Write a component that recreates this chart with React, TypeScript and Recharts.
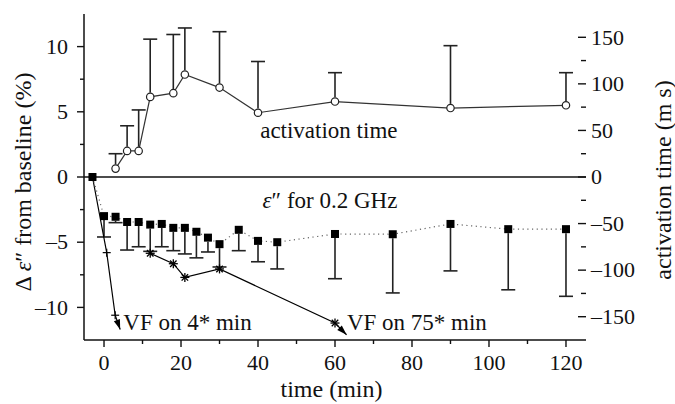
import React from 'react';
import { ComposedChart, Line, XAxis, YAxis, ReferenceLine, ReferenceDot } from 'recharts';

// ---- data ----
const actTimes = [3, 6, 9, 12, 18, 21, 30, 40, 60, 90, 120];
const actValues = [9, 28, 28, 86, 90, 110, 96, 69, 81, 74, 77]; // ms
const actErrors = [16, 27, 44, 62, 63, 50, 60, 55, 31, 67, 35]; // ms (upper)

const epsTimes = [-3, 0, 3, 6, 9, 12, 15, 18, 21, 24, 27, 30, 35, 40, 45, 60, 75, 90, 105, 120];
const epsValues = [0, -3.0, -3.05, -3.45, -3.45, -3.65, -3.6, -3.9, -3.9, -4.2, -4.65, -5.15, -4.05, -4.9, -5.0, -4.37, -4.39, -3.6, -4.0, -4.0];
const epsErrors = [0, 1.6, 0.45, 2.15, 1.9, 2.05, 1.75, 1.75, 2.0, 2.0, 1.1, 1.75, 1.6, 1.6, 2.05, 3.43, 4.5, 3.6, 4.65, 5.15];

const vf4Times = [-3, 0.7, 2.9, 4.2];
const vf4Values = [0, -5.8, -10.6, -11.7];

const vf75Times = [12, 18, 21, 30, 60, 63];
const vf75Values = [-5.85, -6.65, -7.7, -7.05, -11.2, -12.1];

const xTicks = [0, 10, 20, 30, 40, 50, 60, 70, 80, 90, 100, 110, 120];
const leftTicks = [-10, -7.5, -5, -2.5, 0, 2.5, 5, 7.5, 10];
const rightTicks = [-150, -125, -100, -75, -50, -25, 0, 25, 50, 75, 100, 125, 150];

const actData = actTimes.map((t, i) => ({ t, v: actValues[i] }));
const epsData = epsTimes.map((t, i) => ({ t, v: epsValues[i] }));
const vf4Data = vf4Times.map((t, i) => ({ t, v: vf4Values[i] }));
const vf75Data = vf75Times.map((t, i) => ({ t, v: vf75Values[i] }));

// ---- styles ----
const FONT = '"Liberation Serif", "Times New Roman", Times, serif';
const TICK_FS = 22;
const INK = '#111';

const fmt = (v: number) => (v < 0 ? `\u2013${-v}` : `${v}`);

const BottomTick = (p: any) => {
  const { x, y, payload } = p;
  const v = payload.value;
  const major = v % 20 === 0;
  return (
    <g>
      <line x1={x} y1={y} x2={x} y2={y + (major ? 7 : 4)} stroke={INK} strokeWidth={1.4} />
      {major && (
        <text x={x} y={y + 30} textAnchor="middle" fontSize={TICK_FS} fontFamily={FONT} fill={INK}>
          {fmt(v)}
        </text>
      )}
    </g>
  );
};

const TopTick = (p: any) => {
  const { x, y } = p;
  return <line x1={x} y1={y} x2={x} y2={y + 6} stroke={INK} strokeWidth={1.4} />;
};

const LeftTick = (p: any) => {
  const { x, y, payload } = p;
  const v = payload.value;
  const major = v % 5 === 0;
  return (
    <g>
      <line x1={x - (major ? 7 : 4)} y1={y} x2={x} y2={y} stroke={INK} strokeWidth={1.4} />
      {major && (
        <text x={x - 16} y={y} dy="0.33em" textAnchor="end" fontSize={TICK_FS} fontFamily={FONT} fill={INK}>
          {fmt(v)}
        </text>
      )}
    </g>
  );
};

const RightTick = (p: any) => {
  const { x, y, payload } = p;
  const v = payload.value;
  const major = v % 50 === 0;
  return (
    <g>
      <line x1={x - (major ? 8 : 5)} y1={y} x2={x} y2={y} stroke={INK} strokeWidth={1.4} />
      {major && (
        <text x={x + 5} y={y} dy="0.33em" textAnchor="start" fontSize={TICK_FS} fontFamily={FONT} fill={INK}>
          {fmt(v)}
        </text>
      )}
    </g>
  );
};

const errorShape = (r: number) => (p: any) => {
  const { x1, y1, x2, y2 } = p;
  const dir = Math.sign(y2 - y1) || 1;
  return (
    <g>
      <line x1={x1} y1={y1 + dir * r} x2={x2} y2={y2} stroke="#222" strokeWidth={1.6} />
      <line x1={x2 - 7} y1={y2} x2={x2 + 7} y2={y2} stroke="#222" strokeWidth={1.6} />
    </g>
  );
};

const CircleDot = (p: any) => (
  <circle cx={p.cx} cy={p.cy} r={3.7} fill="#fff" stroke="#222" strokeWidth={1.2} />
);

const SquareDot = (p: any) => <rect x={p.cx - 4} y={p.cy - 4} width={8} height={8} fill="#000" />;

const arrowHead = (p: any) => {
  const pts = p.points;
  const prev = pts && pts[p.index - 1];
  const ang = prev ? Math.atan2(p.cy - prev.y, p.cx - prev.x) : Math.PI / 2;
  const L = 10;
  const W = 3.2;
  const bx = p.cx - L * Math.cos(ang);
  const by = p.cy - L * Math.sin(ang);
  const nx = -Math.sin(ang) * W;
  const ny = Math.cos(ang) * W;
  return (
    <polygon
      points={`${p.cx},${p.cy} ${bx + nx},${by + ny} ${bx - nx},${by - ny}`}
      fill="#000"
    />
  );
};

const plusDot = (last: number) => (p: any) => {
  if (p.index === 0) return <g />;
  if (p.index === last) return arrowHead(p);
  return (
    <g stroke="#000" strokeWidth={1.2}>
      <line x1={p.cx - 4} y1={p.cy} x2={p.cx + 4} y2={p.cy} />
      <line x1={p.cx} y1={p.cy - 4} x2={p.cx} y2={p.cy + 4} />
    </g>
  );
};

const starDot = (last: number) => (p: any) => {
  if (p.index === last) return arrowHead(p);
  const s = 4.5;
  const d = s * 0.72;
  return (
    <g stroke="#000" strokeWidth={1.3}>
      <line x1={p.cx - s} y1={p.cy} x2={p.cx + s} y2={p.cy} />
      <line x1={p.cx} y1={p.cy - s} x2={p.cx} y2={p.cy + s} />
      <line x1={p.cx - d} y1={p.cy - d} x2={p.cx + d} y2={p.cy + d} />
      <line x1={p.cx - d} y1={p.cy + d} x2={p.cx + d} y2={p.cy - d} />
    </g>
  );
};

const textShape = (content: React.ReactNode, anchor: 'start' | 'middle' | 'end') => (p: any) => (
  <text x={p.cx} y={p.cy} textAnchor={anchor} fontSize={23} fontFamily={FONT} fill={INK}>
    {content}
  </text>
);

const epsLabel = (
  <>
    <tspan fontStyle="italic">ε</tspan>
    <tspan>″ for 0.2 GHz</tspan>
  </>
);

export default function App() {
  return (
    <div style={{ position: 'absolute', left: 0, top: 0, width: 675, height: 404, background: '#fff' }}>
      <ComposedChart width={675} height={404} margin={{ top: 14, right: 0, bottom: 0, left: 0 }}>
        <XAxis
          dataKey="t"
          type="number"
          domain={[-5.2, 125.2]}
          allowDataOverflow
          ticks={xTicks}
          interval={0}
          tickSize={0}
          tickMargin={0}
          tickLine={false}
          tick={(p: any) => <BottomTick {...p} />}
          axisLine={{ stroke: INK, strokeWidth: 1.5 }}
          height={64}
        />
        <XAxis
          xAxisId="top"
          orientation="top"
          dataKey="t"
          type="number"
          domain={[-5.2, 125.2]}
          allowDataOverflow
          ticks={xTicks}
          interval={0}
          tickSize={0}
          tickMargin={0}
          tickLine={false}
          tick={(p: any) => <TopTick {...p} />}
          axisLine={{ stroke: INK, strokeWidth: 1.5 }}
          height={0}
        />
        <YAxis
          yAxisId="left"
          type="number"
          domain={[-12.5, 12.5]}
          allowDataOverflow
          ticks={leftTicks}
          interval={0}
          tickSize={0}
          tickMargin={0}
          tickLine={false}
          tick={(p: any) => <LeftTick {...p} />}
          axisLine={{ stroke: INK, strokeWidth: 1.5 }}
          width={84}
        />
        <YAxis
          yAxisId="right"
          orientation="right"
          type="number"
          domain={[-175, 175]}
          allowDataOverflow
          ticks={rightTicks}
          interval={0}
          tickSize={0}
          tickMargin={0}
          tickLine={false}
          tick={(p: any) => <RightTick {...p} />}
          axisLine={false}
          width={89}
        />

        <ReferenceLine yAxisId="left" y={0} stroke={INK} strokeWidth={1.5} />

        {actTimes.map((t, i) => (
          <ReferenceLine
            key={`ae${i}`}
            yAxisId="right"
            ifOverflow="visible"
            segment={[
              { x: t, y: actValues[i] },
              { x: t, y: actValues[i] + actErrors[i] },
            ]}
            shape={errorShape(4.2)}
          />
        ))}
        {epsTimes.map((t, i) =>
          epsErrors[i] > 0 ? (
            <ReferenceLine
              key={`ee${i}`}
              yAxisId="left"
              ifOverflow="visible"
              segment={[
                { x: t, y: epsValues[i] },
                { x: t, y: epsValues[i] - epsErrors[i] },
              ]}
              shape={errorShape(4)}
            />
          ) : null
        )}

        <Line
          data={vf4Data}
          dataKey="v"
          yAxisId="left"
          type="linear"
          stroke="#000"
          strokeWidth={1.2}
          dot={plusDot(vf4Data.length - 1)}
          activeDot={false}
          isAnimationActive={false}
        />
        <Line
          data={vf75Data}
          dataKey="v"
          yAxisId="left"
          type="linear"
          stroke="#000"
          strokeWidth={1.2}
          dot={starDot(vf75Data.length - 1)}
          activeDot={false}
          isAnimationActive={false}
        />
        <Line
          data={epsData}
          dataKey="v"
          yAxisId="left"
          type="linear"
          stroke="#666"
          strokeWidth={1.2}
          strokeDasharray="1.2 3.5"
          dot={SquareDot}
          activeDot={false}
          isAnimationActive={false}
        />
        <Line
          data={actData}
          dataKey="v"
          yAxisId="right"
          type="linear"
          stroke="#333"
          strokeWidth={1.2}
          dot={CircleDot}
          activeDot={false}
          isAnimationActive={false}
        />

        <ReferenceDot yAxisId="left" x={58.4} y={3.0} r={0} shape={textShape('activation time', 'middle')} />
        <ReferenceDot yAxisId="left" x={58.7} y={-2.4} r={0} shape={textShape(epsLabel, 'middle')} />
        <ReferenceDot yAxisId="left" x={5.0} y={-11.7} r={0} shape={textShape('VF on 4* min', 'start')} />
        <ReferenceDot yAxisId="left" x={63.1} y={-11.7} r={0} shape={textShape('VF on 75* min', 'start')} />
      </ComposedChart>

      <svg
        width={675}
        height={404}
        style={{ position: 'absolute', left: 0, top: 0, pointerEvents: 'none' }}
      >
        <text
          transform="translate(31,182) rotate(-90)"
          textAnchor="middle"
          fontSize={24}
          fontFamily={FONT}
          fill={INK}
        >
          <tspan>Δ </tspan>
          <tspan fontStyle="italic">ε</tspan>
          <tspan>″ from baseline (%)</tspan>
        </text>
        <text
          transform="translate(671,180) rotate(-90)"
          textAnchor="middle"
          fontSize={24}
          fontFamily={FONT}
          fill={INK}
        >
          activation time (m s)
        </text>
        <text x={331.5} y={397} textAnchor="middle" fontSize={24} fontFamily={FONT} fill={INK}>
          time (min)
        </text>
      </svg>
    </div>
  );
}
